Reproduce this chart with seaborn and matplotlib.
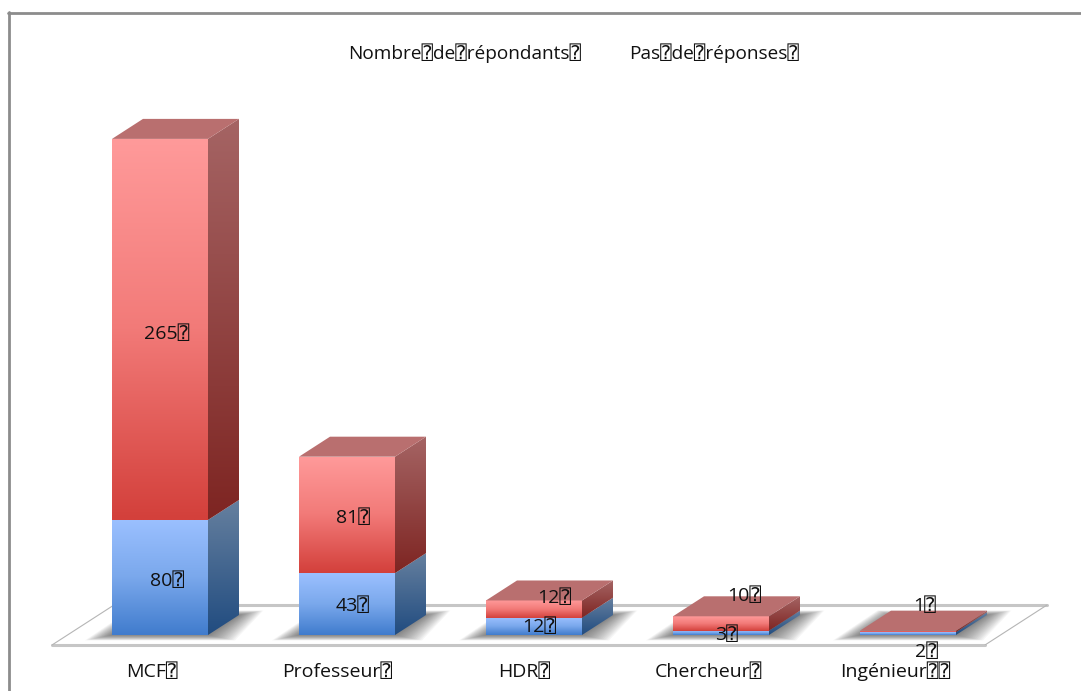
#!/usr/bin/env python3
"""Stacked pseudo-3D bars: respondents per status."""
import numpy as np
import pandas as pd
import matplotlib
matplotlib.use("Agg")
import matplotlib.pyplot as plt
from matplotlib.colors import LinearSegmentedColormap
from matplotlib.patches import Polygon
import seaborn as sns

categories = ["MCF", "Professeur", "HDR", "Chercheur", "Ingénieur"]
respondents = [80, 43, 12, 3, 2]
no_answer = [265, 81, 12, 10, 1]
series_names = ["Nombre de répondants", "Pas de réponses"]
TOFU = "\u2370"

sns.set_theme(style="white")
plt.rcParams["font.family"] = ["Open Sans", "DejaVu Sans", "DejaVu Sans Mono"]

W, H = 1081, 691
SPACING = 187.0    # px per category
UNIT = 1.438       # px per value
BASE_X, BASE_Y = 160.0, 635.0
FLOOR_Y = 645.0
DX, DY = 31.0 / SPACING, 20.0 / UNIT   # bar depth in data units
FONT = 14


def px_x(v):
    return (v - BASE_X) / SPACING


def px_y(v):
    return (BASE_Y - v) / UNIT


fig = plt.figure(figsize=(W / 100, H / 100), dpi=100)
ax = fig.add_axes([0, 1 - FLOOR_Y / H, 1, FLOOR_Y / H])
xlim = (px_x(0), px_x(W))
ylim = (px_y(FLOOR_Y), px_y(0))

# frame of the pasted chart
frame = "#8c8c8c"
fig.add_artist(plt.Line2D([8.5 / W, 8.5 / W], [0, 1 - 12 / H], color=frame, lw=2))
fig.add_artist(plt.Line2D([8 / W, 1], [1 - 12.5 / H] * 2, color=frame, lw=2))

# floor
floor_dx, floor_dy = 2 * DX, 2 * DY
fx0, fx1 = px_x(52), px_x(985)
fy = px_y(FLOOR_Y)
ax.plot([fx0, fx1], [fy, fy], color="#c6c6c6", lw=2.2, clip_on=False, zorder=1)
ax.plot([fx0 + floor_dx, fx1 + floor_dx], [fy + floor_dy] * 2, color="#c6c6c6", lw=2.2, zorder=1)
ax.plot([fx0, fx0 + floor_dx], [fy, fy + floor_dy], color="#b5b5b5", lw=0.8, zorder=1, clip_on=False)
ax.plot([fx1, fx1 + floor_dx], [fy, fy + floor_dy], color="#b5b5b5", lw=0.8, zorder=1)

# seaborn draws the front faces, totals first so the blue part sits on top
df = pd.DataFrame({"cat": categories, "resp": respondents, "none": no_answer})
df["total"] = df["resp"] + df["none"]
bar_width = 96 / SPACING
sns.barplot(data=df, x="cat", y="total", color="#d9534f", width=bar_width, saturation=1, ax=ax, zorder=3)
sns.barplot(data=df, x="cat", y="resp", color="#6a9be0", width=bar_width, saturation=1, ax=ax, zorder=3)

n = len(categories)
red_bars = ax.patches[:n]
blue_bars = ax.patches[n:]

red_front = LinearSegmentedColormap.from_list("rf", ["#ff9a9a", "#f27a78", "#d3403b"])
blue_front = LinearSegmentedColormap.from_list("bf", ["#9bc0ff", "#7aa8ec", "#407ccd"])
red_side = LinearSegmentedColormap.from_list("rs", ["#a56464", "#7e2522"])
blue_side = LinearSegmentedColormap.from_list("bs", ["#66809f", "#214c80"])
TOP_COLOR = "#b96f6f"
grad = np.linspace(0, 1, 128).reshape(-1, 1)


def paint_gradient(patch, cmap, x0, x1, y0, y1, zorder):
    # vertical gradient clipped to a face
    im = ax.imshow(grad, cmap=cmap, extent=(x0, x1, y0, y1), aspect="auto",
                   origin="upper", zorder=zorder, interpolation="bilinear")
    im.set_clip_path(patch)


def draw_shadow(x0, x1):
    # soft shadow: stacked translucent floor parallelograms
    layers = 18
    for k in range(layers):
        step = layers - k
        grow = step * 1.5 / SPACING
        low = step * 0.3 / UNIT
        high = DY + step * 0.25 / UNIT
        pts = [(x0 - grow, -low), (x1 + grow, -low),
               (x1 + DX + grow * 0.9, high), (x0 + DX - grow * 0.5, high)]
        ax.add_patch(Polygon(pts, closed=True, fc="#333333", ec="none", alpha=0.045, zorder=2))


for red, blue in zip(red_bars, blue_bars):
    x0, x1 = red.get_x(), red.get_x() + red.get_width()
    split = blue.get_height()
    top = red.get_height()
    red.set_edgecolor("none")
    blue.set_edgecolor("none")
    draw_shadow(x0, x1)
    segments = [(0, split, blue, blue_front, blue_side), (split, top, red, red_front, red_side)]
    for low, high, face, front_map, side_map in segments:
        if face is red:
            # the total bar only shows above the blue part
            face.set_height(high - low)
            face.set_y(low)
        paint_gradient(face, front_map, x0, x1, low, high, 4)
        side = Polygon([(x1, low), (x1 + DX, low + DY), (x1 + DX, high + DY), (x1, high)],
                       closed=True, fc="none", ec="none", transform=ax.transData, zorder=4)
        ax.add_patch(side)
        paint_gradient(side, side_map, x1, x1 + DX, low, high + DY, 4)
    ax.add_patch(Polygon([(x0, top), (x1, top), (x1 + DX, top + DY), (x0 + DX, top + DY)],
                         closed=True, fc=TOP_COLOR, ec="none", zorder=5))

# value labels, nudged as in the source (px)
blue_offset = [(7, 4), (6, 2), (5, 1), (5, 2), (19, 18)]
red_offset = [(7, 5), (6, 3), (20, -11), (23, -27), (17, -25)]
text_style = dict(ha="center", va="center", fontsize=FONT, color="#111111", zorder=7)
for i in range(n):
    low_mid = respondents[i] / 2
    high_mid = respondents[i] + no_answer[i] / 2
    ax.text(i + blue_offset[i][0] / SPACING, low_mid - blue_offset[i][1] / UNIT,
            f"{respondents[i]}{TOFU}", **text_style)
    ax.text(i + red_offset[i][0] / SPACING, high_mid - red_offset[i][1] / UNIT,
            f"{no_answer[i]}{TOFU}", **text_style)

# legend-like header, no swatches in the source
for name, x_px in zip(series_names, [348, 629]):
    fig.text(x_px / W, 1 - 53 / H, name.replace(" ", TOFU) + TOFU, ha="left", va="center",
             fontsize=13.7, color="#111111")

# the source axis labels do not line up with the bars
tick_px = [152, 337, 524, 708, 895]
labels = [c + TOFU * (2 if c == "Ingénieur" else 1) for c in categories]
ax.set_xticks([px_x(p) for p in tick_px])
ax.set_xticklabels(labels, fontsize=FONT, color="#111111", va="baseline")
ax.tick_params(axis="x", length=0, pad=23)
ax.set_xlabel("")
ax.set_ylabel("")
ax.set_yticks([])
ax.set_xlim(*xlim)
ax.set_ylim(*ylim)
ax.patch.set_alpha(0)
sns.despine(ax=ax, left=True, bottom=True)

fig.savefig("out.png", dpi=100)
